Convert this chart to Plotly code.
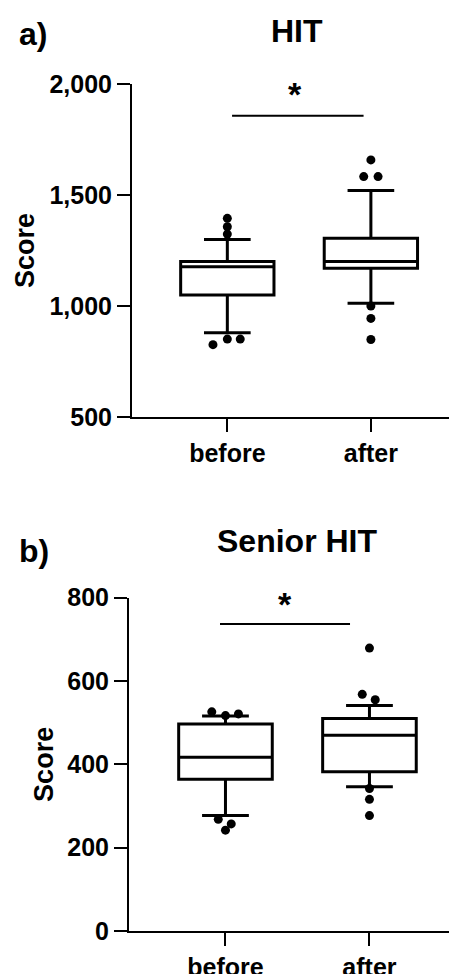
import plotly.graph_objects as go

categories = ["before", "after"]
positions = [0, 1]

# Panel a) HIT
hit_q1 = [1050, 1170]
hit_median = [1177, 1201]
hit_q3 = [1201, 1305]
hit_lowerfence = [880, 1012]
hit_upperfence = [1300, 1520]
hit_outlier_group = [0, 0, 0, 0, 0, 0, 1, 1, 1, 1, 1, 1]
hit_outlier_jitter = [0, 0, 0, -0.1, 0, 0.09, 0, -0.05, 0.05, 0, 0, 0]
hit_outlier_value = [1395, 1357, 1324, 826, 851, 851, 1658, 1583, 1583, 1000, 944, 849]
hit_ticks = [500, 1000, 1500, 2000]

# Panel b) Senior HIT
sen_q1 = [364, 382]
sen_median = [417, 470]
sen_q3 = [497, 510]
sen_lowerfence = [277, 346]
sen_upperfence = [516, 541]
sen_outlier_group = [0, 0, 0, 0, 0, 0, 1, 1, 1, 1, 1, 1]
sen_outlier_jitter = [-0.095, 0, 0.09, -0.05, 0.04, 0, 0, -0.05, 0.04, 0, 0, 0]
sen_outlier_value = [526, 517, 521, 268, 257, 242, 679, 568, 555, 342, 316, 277]
sen_ticks = [0, 200, 400, 600, 800]

FONT = "Liberation Sans, Arial, sans-serif"
W, H = 457, 974
OFF = 8  # page body margin


def py(px):
    return 1 - (px - OFF) / H


def pxx(px):
    return (px - OFF) / W


fig = go.Figure()


def add_panel(xa, ya, q1, med, q3, lo, hi, og, oj, ov):
    fig.add_trace(go.Box(
        x=positions, q1=q1, median=med, q3=q3, lowerfence=lo, upperfence=hi,
        width=0.65, whiskerwidth=0.5, fillcolor="white",
        line=dict(color="black", width=3), boxpoints=False,
        xaxis=xa, yaxis=ya, showlegend=False, hoverinfo="skip"))
    fig.add_trace(go.Scatter(
        x=[g + j for g, j in zip(og, oj)], y=ov, mode="markers",
        marker=dict(size=9, color="black"), xaxis=xa, yaxis=ya,
        showlegend=False, hoverinfo="skip"))


add_panel("x", "y", hit_q1, hit_median, hit_q3, hit_lowerfence, hit_upperfence,
          hit_outlier_group, hit_outlier_jitter, hit_outlier_value)
add_panel("x2", "y2", sen_q1, sen_median, sen_q3, sen_lowerfence, sen_upperfence,
          sen_outlier_group, sen_outlier_jitter, sen_outlier_value)

# significance bars
fig.add_trace(go.Scatter(x=[0.033, 0.949], y=[1857, 1857], mode="lines",
                         line=dict(color="black", width=2), xaxis="x", yaxis="y",
                         showlegend=False, hoverinfo="skip"))
fig.add_trace(go.Scatter(x=[-0.038, 0.865], y=[737, 737], mode="lines",
                         line=dict(color="black", width=2), xaxis="x2", yaxis="y2",
                         showlegend=False, hoverinfo="skip"))

axis_common = dict(showline=True, linecolor="black", linewidth=2, ticks="outside",
                   ticklen=13, tickwidth=2, tickcolor="black", showgrid=False,
                   zeroline=False, automargin=False,
                   tickfont=dict(family=FONT, size=25, color="black", weight="bold"))

fig.update_layout(
    width=W, height=H, margin=dict(l=0, r=0, t=0, b=0),
    paper_bgcolor="white", plot_bgcolor="white",
    xaxis=dict(domain=[pxx(132), 1], range=[-0.664, 1.60 + OFF / 144], tickvals=positions,
               ticktext=categories, anchor="y", **axis_common),
    yaxis=dict(domain=[py(417), py(84)], range=[500, 2000], tickvals=hit_ticks,
               tickformat=",", anchor="x",
               title=dict(text="Score", standoff=7,
                          font=dict(family=FONT, size=27, color="black", weight="bold")),
               **axis_common),
    xaxis2=dict(domain=[pxx(129), 1], range=[-0.67, 1.608 + OFF / 144], tickvals=positions,
                ticktext=categories, anchor="y2", **axis_common),
    yaxis2=dict(domain=[py(931), py(597.7)], range=[0, 800], tickvals=sen_ticks,
                anchor="x2",
                title=dict(text="Score", standoff=6,
                           font=dict(family=FONT, size=27, color="black", weight="bold")),
                **axis_common),
)

title_font = dict(family=FONT, size=32, color="black", weight="bold")
fig.add_annotation(text="a)", x=pxx(17), y=py(34), xref="paper", yref="paper",
                   xanchor="left", yanchor="middle", showarrow=False, font=title_font)
fig.add_annotation(text="HIT", x=pxx(297), y=py(31), xref="paper", yref="paper",
                   xanchor="center", yanchor="middle", showarrow=False, font=title_font)
fig.add_annotation(text="b)", x=pxx(17), y=py(551), xref="paper", yref="paper",
                   xanchor="left", yanchor="middle", showarrow=False, font=title_font)
fig.add_annotation(text="Senior HIT", x=pxx(297), y=py(541), xref="paper", yref="paper",
                   xanchor="center", yanchor="middle", showarrow=False, font=title_font)

star_font = dict(family=FONT, size=34, color="black", weight="bold")
fig.add_annotation(text="*", x=0.47, y=1955, xref="x", yref="y", xanchor="center",
                   yanchor="middle", showarrow=False, font=star_font)
fig.add_annotation(text="*", x=0.41, y=785, xref="x2", yref="y2", xanchor="center",
                   yanchor="middle", showarrow=False, font=star_font)

fig.write_html("out.html")
